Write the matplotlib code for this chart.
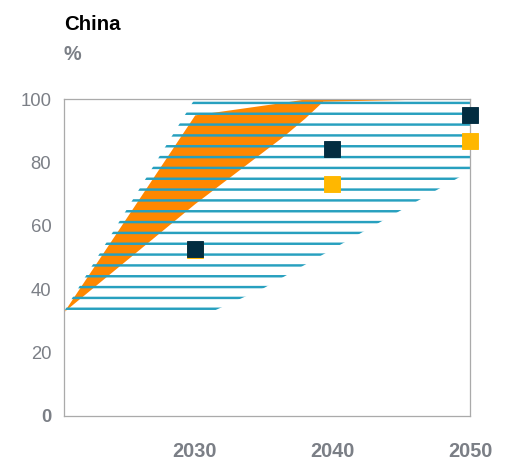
import numpy as np
import matplotlib.pyplot as plt

# 数据
years_band = [2020.5, 2030, 2031.3, 2035, 2049.5, 2050]
band_high = [33, 100, 100, 100, 100, 100]
band_low = [33, 33, 33, 40.3, 76, 77]

years_core = [2020.5, 2030, 2036.5, 2038, 2039.3, 2047, 2050]
core_high = [33, 95, 99, 100, 100, 100, 100]
core_low = [33, 67, 88.5, 94, 99.3, 100, 100]

years_pts = [2030, 2040, 2050]
dark_pts = [52.7, 84.2, 95.0]
yellow_pts = [52.5, 73.2, 86.8]

xticks = [2030, 2040, 2050]
yticks = [0, 20, 40, 60, 80, 100]

gray = '#7b7f86'
plt.rcParams['font.family'] = ['Liberation Sans', 'DejaVu Sans']
plt.rcParams['hatch.linewidth'] = 2.7

dpi = 65
fig = plt.figure(figsize=(513 / dpi, 465 / dpi), dpi=dpi)
ax = fig.add_axes([64 / 513, 1 - 416 / 465, (470 - 64) / 513, (416 - 99) / 465])

# 橙色区域
ax.fill_between(years_core, core_low, core_high, color='#ff8700', lw=0, zorder=1)
# 蓝色横线区域
ax.fill_between(years_band, band_low, band_high, facecolor='none',
                edgecolor='#27a0bf', hatch='-', lw=0, zorder=2)

ax.plot(years_pts, yellow_pts, 's', color='#ffb700', ms=17.5, ls='none',
        zorder=6, clip_on=False)
ax.plot(years_pts, dark_pts, 's', color='#022d41', ms=17.5, ls='none',
        zorder=7, clip_on=False)

ax.set_xlim(2020.5, 2050)
ax.set_ylim(0, 100)
ax.set_xticks(xticks)
ax.set_xticklabels([str(x) for x in xticks], fontsize=22, fontweight='bold', color=gray)
ax.set_yticks(yticks)
ax.set_yticklabels([str(y) for y in yticks], fontsize=20.5, color=gray)
ax.get_yticklabels()[0].set_fontweight('bold')
ax.tick_params(axis='x', length=0, pad=29)
ax.tick_params(axis='y', length=0, pad=14)
for s in ax.spines.values():
    s.set_color('#aaaaaa')
    s.set_linewidth(1.4)
    s.set_zorder(5)

fig.text(64 / 513, 1 - 29.5 / 465, 'China', fontsize=22.5, fontweight='bold',
         color='black', va='baseline')
fig.text(64 / 513, 1 - 60.5 / 465, '%', fontsize=22, fontweight='bold',
         color=gray, va='baseline')

plt.savefig('out.png', dpi=dpi)
